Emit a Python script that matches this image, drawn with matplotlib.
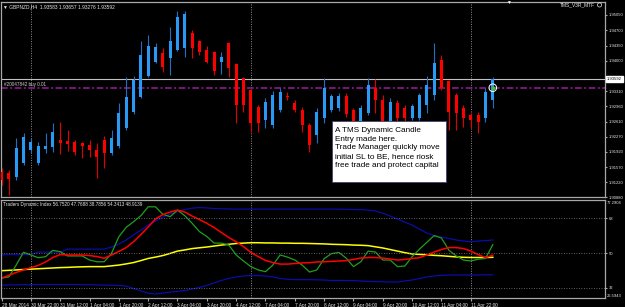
import matplotlib.pyplot as plt
import matplotlib.transforms as mtransforms
from matplotlib.patches import Rectangle
import numpy as np

plt.rcParams['font.family'] = ['Liberation Sans', 'DejaVu Sans']

# GBPNZD H4 candles
opens = [1.91459, 1.91436, 1.91345, 1.91665, 1.91962, 1.91665, 1.91985, 1.92031, 1.92191, 1.92168,
         1.92145, 1.92123, 1.92077, 1.91962, 1.92191, 1.91894, 1.92054, 1.92466, 1.92832, 1.93175,
         1.93655, 1.93975, 1.94181, 1.94067, 1.94249, 1.94295, 1.94638, 1.94455, 1.94249, 1.94204,
         1.93975, 1.94410, 1.93929, 1.93609, 1.93335, 1.92946, 1.92649, 1.92534, 1.92877, 1.93197,
         1.93037, 1.92877, 1.92534, 1.92306, 1.92694, 1.92877, 1.92923, 1.93197, 1.92877, 1.92626,
         1.92809, 1.93380, 1.93106, 1.92603, 1.93037, 1.92923, 1.92694, 1.92694, 1.92992, 1.93220,
         1.94021, 1.93541, 1.93220, 1.92923, 1.92763, 1.92763, 1.92694, 1.93106]
highs = [1.91551, 1.91505, 1.92237, 1.92351, 1.92237, 1.92145, 1.92351, 1.92580, 1.92603, 1.92420,
         1.92191, 1.92145, 1.92191, 1.92123, 1.92283, 1.92420, 1.93037, 1.93632, 1.93655, 1.94455,
         1.94593, 1.94410, 1.94295, 1.94776, 1.95141, 1.95141, 1.94707, 1.94478, 1.94341, 1.94227,
         1.94204, 1.94432, 1.93952, 1.93632, 1.93358, 1.92992, 1.93152, 1.93312, 1.93380, 1.93289,
         1.93106, 1.92946, 1.92580, 1.92923, 1.93609, 1.93243, 1.93266, 1.93266, 1.92923, 1.92992,
         1.93609, 1.93586, 1.93220, 1.93152, 1.93106, 1.92992, 1.93015, 1.93266, 1.93655, 1.94410,
         1.94135, 1.93563, 1.93266, 1.92992, 1.92809, 1.92832, 1.93380, 1.93632]
lows = [1.91162, 1.90933, 1.91276, 1.91619, 1.91894, 1.91619, 1.91894, 1.91917, 1.91871, 1.91940,
        1.91848, 1.91780, 1.91802, 1.91322, 1.91551, 1.91848, 1.92008, 1.92420, 1.92786, 1.93152,
        1.93632, 1.93952, 1.93746, 1.93678, 1.94227, 1.94089, 1.94067, 1.94135, 1.93952, 1.93678,
        1.93701, 1.93632, 1.92580, 1.92832, 1.92374, 1.92374, 1.92466, 1.92466, 1.92832, 1.93106,
        1.92832, 1.92374, 1.91917, 1.92123, 1.92580, 1.92832, 1.92854, 1.92717, 1.92534, 1.92580,
        1.92763, 1.92809, 1.92260, 1.92511, 1.92466, 1.92534, 1.92649, 1.92649, 1.92809, 1.93106,
        1.93335, 1.92420, 1.92420, 1.92489, 1.92466, 1.92351, 1.92603, 1.92923]
closes = [1.91276, 1.91299, 1.92008, 1.92260, 1.92145, 1.92054, 1.92054, 1.92374, 1.92123, 1.92100,
          1.91917, 1.92054, 1.91962, 1.91802, 1.91894, 1.92237, 1.92809, 1.93175, 1.93563, 1.94135,
          1.94341, 1.94318, 1.93861, 1.94455, 1.95004, 1.95073, 1.94295, 1.94204, 1.93975, 1.93769,
          1.94089, 1.93838, 1.92992, 1.92992, 1.92580, 1.92580, 1.93060, 1.93220, 1.93289, 1.93175,
          1.92877, 1.92534, 1.92077, 1.92832, 1.93380, 1.93197, 1.93197, 1.92786, 1.92603, 1.92923,
          1.93449, 1.93106, 1.92534, 1.93060, 1.92694, 1.92694, 1.92969, 1.93220, 1.93449, 1.93952,
          1.93380, 1.92832, 1.92809, 1.92694, 1.92649, 1.92603, 1.93289, 1.93592]

# Traders Dynamic Index
tdi_rsi = [37.1, 37.7, 43.8, 50.4, 49.0, 47.6, 48.1, 51.4, 50.7, 48.5,
           48.5, 48.5, 46.4, 45.5, 45.5, 49.8, 58.4, 63.2, 66.1, 69.2,
           73.8, 73.8, 69.9, 68.7, 72.1, 69.2, 65.3, 61.0, 58.5, 55.1,
           55.1, 54.1, 49.0, 45.9, 43.0, 41.3, 40.4, 43.8, 49.0, 47.9,
           46.4, 43.8, 40.2, 41.3, 47.1, 49.7, 50.3, 47.4, 43.0, 45.5,
           51.0, 50.5, 46.4, 46.4, 43.0, 43.3, 48.1, 52.0, 55.5, 59.0,
           57.7, 51.5, 48.5, 46.4, 45.9, 46.8, 47.2, 54.3]
tdi_signal = [37.1, 38.5, 40.0, 41.3, 42.5, 43.6, 45.4, 47.7, 49.2, 49.0,
              49.0, 49.0, 48.7, 48.2, 47.3, 49.0, 50.8, 52.8, 55.8, 59.5,
              63.4, 67.5, 69.8, 71.1, 72.1, 71.1, 69.0, 67.2, 65.3, 63.1,
              60.5, 58.0, 55.8, 53.3, 50.3, 48.2, 46.2, 45.1, 44.3, 44.3,
              44.6, 44.9, 45.0, 45.4, 45.5, 45.7, 45.9, 46.1, 46.7, 47.4,
              47.7, 47.7, 47.4, 46.9, 46.4, 46.7, 47.2, 47.6, 49.0, 50.5,
              51.8, 52.8, 52.8, 52.3, 51.0, 49.2, 47.6, 48.9]
tdi_base = [40.9, 41.1, 41.3, 41.5, 41.7, 41.9, 42.1, 42.3, 42.5, 42.6,
            42.8, 42.9, 43.0, 43.0, 43.0, 43.4, 43.8, 44.4, 45.1, 46.1,
            47.2, 47.9, 48.7, 49.8, 51.0, 51.6, 52.3, 52.7, 53.1, 53.6,
            54.1, 54.5, 54.9, 55.1, 55.3, 55.3, 55.2, 55.2, 55.1, 55.1,
            55.0, 55.0, 54.9, 54.8, 54.7, 54.5, 54.4, 54.3, 54.1, 54.0,
            53.8, 53.2, 52.6, 51.8, 51.0, 50.2, 49.5, 49.3, 49.1, 48.8,
            48.6, 48.3, 48.0, 47.8, 47.7, 47.7, 47.7, 47.8]
tdi_upper = [49.0, 49.2, 49.2, 49.2, 49.2, 50.5, 50.5, 50.5, 50.5, 52.0,
             52.0, 52.0, 52.0, 52.0, 52.0, 53.1, 54.6, 56.7, 59.3, 61.8,
             64.4, 66.5, 68.5, 70.1, 71.3, 72.4, 73.1, 73.4, 73.2, 72.9,
             72.8, 72.7, 72.6, 72.6, 72.6, 72.6, 72.6, 72.6, 72.6, 72.6,
             72.6, 72.6, 72.6, 72.6, 72.6, 72.6, 72.6, 72.5, 72.4, 72.3,
             72.1, 71.6, 70.6, 69.0, 67.5, 65.9, 64.4, 62.3, 60.3, 59.0,
             58.2, 57.5, 56.7, 56.2, 55.8, 56.2, 56.4, 56.7]
tdi_lower = [33.5, 33.6, 33.6, 33.7, 33.7, 33.8, 33.8, 33.8, 33.8, 33.8,
             33.8, 33.7, 33.7, 33.6, 33.5, 33.4, 33.3, 33.0, 31.7, 30.5,
             29.4, 28.9, 29.4, 29.9, 30.2, 30.7, 31.5, 32.3, 33.3, 34.6,
             35.9, 36.9, 37.7, 38.2, 38.4, 38.4, 38.2, 37.7, 36.9, 36.5,
             36.3, 36.3, 36.3, 36.2, 36.1, 35.9, 35.9, 35.8, 35.8, 35.6,
             35.4, 35.3, 35.2, 35.1, 35.1, 35.6, 36.1, 36.9, 37.7, 38.2,
             38.5, 38.7, 38.7, 38.7, 38.7, 38.7, 38.8, 38.8]

time_labels = ["28 Mar 2014", "30 Mar 22:00", "31 Mar 12:00", "1 Apr 04:00", "1 Apr 20:00",
               "2 Apr 12:00", "3 Apr 04:00", "3 Apr 20:00", "4 Apr 12:00", "7 Apr 04:00",
               "7 Apr 20:00", "8 Apr 12:00", "9 Apr 04:00", "9 Apr 20:00", "10 Apr 12:00",
               "11 Apr 04:00", "11 Apr 22:00"]
price_ticks = [1.95050, 1.94700, 1.94350, 1.94000, 1.93310, 1.92960, 1.92610,
               1.92270, 1.91920, 1.91570, 1.91220, 1.90880]
separators = [4, 34, 64]
bid = 1.93592
order_price = 1.93386

o = np.array(opens)
h = np.array(highs)
l = np.array(lows)
c = np.array(closes)
idx = np.arange(len(o))
up = c >= o

grey = '#a8a8a8'
txt = '#e8e8e8'
lab = 3.0

fig = plt.figure(figsize=(6.25, 3.07), dpi=100, facecolor='black')
ax = fig.add_axes([0.0016, 0.3567, 0.9664, 0.6368], facecolor='black')
ax2 = fig.add_axes([0.0016, 0.0277, 0.9664, 0.3208], facecolor='black', sharex=ax)

# candles
ax.vlines(idx[up], l[up], h[up], color='#1f6fc4', lw=0.8, zorder=3)
ax.vlines(idx[~up], l[~up], h[~up], color='#e00000', lw=0.8, zorder=3)
ax.bar(idx[up], (c - o)[up], bottom=o[up], width=0.42, color='#2899f5', zorder=4)
ax.bar(idx[~up], (o - c)[~up], bottom=c[~up], width=0.42, color='#ff0000', zorder=4)

ax.axhline(bid, color='#c0c0c0', lw=0.8, zorder=2)
ax.axhline(order_price, color='#8e1a8e', lw=1.2, ls=(0, (4, 1.5, 1.2, 1.5)), zorder=2)
ax.text(0.4, order_price + 0.00012, "#20047842 buy 0.01", color='#d0d0d0',
        fontsize=3.3, va='bottom')
ax.scatter([67], [order_price], s=30, facecolors='none', edgecolors='white', lw=0.7, zorder=6)
ax.scatter([67], [order_price], s=4, color='#40c040', zorder=6)

ax.set_xlim(-0.07, 82.3)
ax.set_ylim(1.90876, 1.95347)
ax.yaxis.tick_right()
ax.set_yticks(price_ticks)
ax.set_yticklabels([f"{p:.5f}" for p in price_ticks])
ax.tick_params(axis='y', colors=grey, labelcolor=txt, labelsize=lab, length=1.5, pad=1)
ax.tick_params(axis='x', bottom=False, labelbottom=False)

ytr = mtransforms.blended_transform_factory(ax.transAxes, ax.transData)
ax.text(1.003, bid, "1.93592", transform=ytr, fontsize=lab, color='black', va='center',
        ha='left', bbox=dict(boxstyle='square,pad=0.25', fc='white', ec='white'))

ax.text(0.004, 0.988, "\u25BC GBPNZD,H4  1.93583 1.93657 1.93276 1.93592", transform=ax.transAxes,
        color=txt, fontsize=3.5, va='top', ha='left')
ax.text(0.983, 0.985, "TMS_V3R_MTF", transform=ax.transAxes,
        color=txt, fontsize=3.5, va='center', ha='right')
ax.scatter([0.991], [0.985], s=9, facecolors='none', edgecolors=txt, lw=0.5,
           transform=ax.transAxes, zorder=6)
ax.text(69.1, 1.95347, "\u25BC", color='white', fontsize=3.5, va='center', ha='center')

# comment box
ax.add_patch(Rectangle((0.548, 0.0793), 0.1887, 0.312, transform=ax.transAxes,
                       fc='white', ec='#404070', lw=0.6, zorder=9))
ax.text(0.553, 0.362, "A TMS Dynamic Candle\nEntry made here.\nTrade Manager quickly move\n"
        "initial SL to BE, hence riosk\nfree trade and protect capital",
        transform=ax.transAxes, fontsize=5.9, color='black', va='top', ha='left',
        linespacing=1.36, zorder=10)

# TDI panel
ax2.plot(idx, tdi_upper, color='#0c0ca8', lw=0.9)
ax2.plot(idx, tdi_lower, color='#0c0ca8', lw=0.9)
ax2.plot(idx, tdi_base, color='#ffff00', lw=1.1)
ax2.plot(idx, tdi_rsi, color='#1f9e1f', lw=0.9)
ax2.plot(idx, tdi_signal, color='#ff0000', lw=1.1)
for lv in [68, 50, 32]:
    ax2.axhline(lv, color='#808080', lw=0.6, ls=(0, (1, 2)))
ax2.set_ylim(26.5943, 77.2904)
ax2.yaxis.tick_right()
ax2.set_yticks([68, 50, 32])
ax2.set_yticklabels(["68", "50", "32"])
ax2.tick_params(axis='y', colors=grey, labelcolor=txt, labelsize=lab, length=1.5, pad=1)
ax2.text(1.003, 0.985, "77.2904", transform=ax2.transAxes, fontsize=lab, color=txt,
         va='top', ha='left')
ax2.text(1.003, 0.01, "26.5943", transform=ax2.transAxes, fontsize=lab, color=txt,
         va='bottom', ha='left')
ax2.text(0.004, 0.975, "Traders Dynamic Index 56.7520 47.7688 38.7856 54.3413 48.9139",
         transform=ax2.transAxes, color=txt, fontsize=3.3, va='top', ha='left')

ax2.set_xticks(idx[::4][:len(time_labels)])
ax2.set_xticklabels(time_labels, ha='left')
ax2.tick_params(axis='x', colors=grey, labelcolor=txt, labelsize=3.4, length=2, pad=1)

for a in (ax, ax2):
    for s in a.spines.values():
        s.set_color(grey)
        s.set_linewidth(0.9)
    for sx in separators:
        a.axvline(sx, color='#909090', lw=0.7, ls=(0, (1, 1.5)), zorder=1)

fig.savefig("out.png", dpi=100, facecolor='black')
